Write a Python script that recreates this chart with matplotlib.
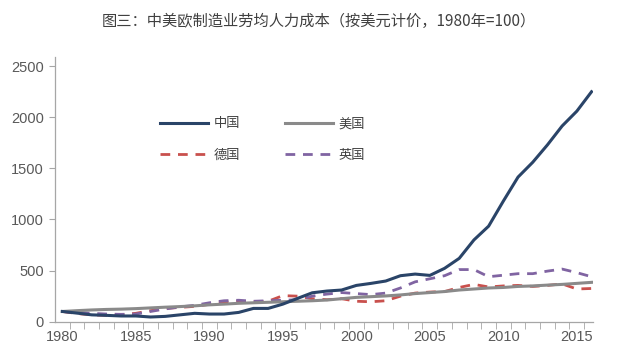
import matplotlib
matplotlib.use("Agg")
import matplotlib.pyplot as plt
import numpy as np

plt.rcParams['font.family'] = ['Liberation Sans', 'Noto Sans CJK SC', 'DejaVu Sans']

years = list(range(1980, 2017))

china = [100, 84, 67, 62, 56, 56, 46, 52, 67, 82, 75, 75, 91, 130, 130, 172, 228, 283, 300, 310,
         355, 375, 398, 450, 466, 453, 522, 620, 800, 935, 1180, 1415, 1560, 1730, 1915, 2060, 2250]
usa = [100, 108, 115, 120, 123, 128, 135, 142, 148, 155, 165, 172, 180, 185, 190, 195, 200, 205, 212, 225,
       238, 245, 252, 262, 275, 285, 295, 310, 320, 330, 335, 345, 350, 358, 365, 375, 385]
germany = [100, 80, 67, 62, 68, 82, 108, 130, 140, 150, 170, 190, 200, 195, 200, 255, 250, 225, 215, 225,
           200, 195, 205, 250, 280, 290, 295, 335, 365, 340, 350, 355, 345, 355, 370, 320, 325]
uk = [100, 90, 82, 75, 72, 75, 100, 125, 145, 160, 185, 205, 210, 200, 205, 210, 215, 250, 270, 285,
      275, 265, 280, 330, 390, 420, 450, 510, 510, 440, 455, 470, 470, 495, 515, 480, 440]

labels = ['中国', '美国', '德国', '英国']

fig = plt.figure(figsize=(6.41, 3.64), dpi=100)
ax = fig.add_axes([55/641, 1 - 321.7/364, (593 - 55)/641, (321.7 - 57)/364])

l_cn, = ax.plot(years, china, color='#2A4468', lw=2.2, solid_joinstyle='round', label=labels[0], zorder=4)
l_us, = ax.plot(years, usa, color='#8A8A8A', lw=2.2, solid_joinstyle='round', label=labels[1], zorder=3)
l_de, = ax.plot(years, germany, color='#C9504D', lw=2.0, dashes=(3.5, 2.8), label=labels[2], zorder=2)
l_uk, = ax.plot(years, uk, color='#8064A2', lw=2.0, dashes=(3.5, 2.8), label=labels[3], zorder=2)

ax.set_xlim(1979.5, 2016.1)
ax.set_ylim(0, 2590)
ax.set_yticks(range(0, 2501, 500))
ax.set_xticks(range(1980, 2016, 5))
ax.set_xticks(np.arange(1980.5, 2016, 1), minor=True)

for s in ['top', 'right']:
    ax.spines[s].set_visible(False)
for s in ['left', 'bottom']:
    ax.spines[s].set_color('#A6A6A6')
    ax.spines[s].set_linewidth(0.9)

ax.tick_params(axis='y', length=4, color='#A6A6A6', labelsize=10.5, labelcolor='#595959', pad=4)
ax.tick_params(axis='x', which='major', length=0, labelsize=10.5, labelcolor='#595959', pad=6)
ax.tick_params(axis='x', which='minor', length=5, color='#A6A6A6')

fig.text(0.497, 1 - 21/364, '图三：中美欧制造业劳均人力成本（按美元计价，1980年=100）',
         ha='center', va='center', fontsize=11, color='#404040',
         family=['Noto Sans CJK SC', 'DejaVu Sans'])

# legend fills column-wise, so order gives rows 中国/美国 and 德国/英国
leg = ax.legend([l_cn, l_de, l_us, l_uk], [labels[0], labels[2], labels[1], labels[3]],
                ncol=2, frameon=False, loc='upper left',
                bbox_to_anchor=(155/641, 1 - 112/364), bbox_transform=fig.transFigure,
                borderaxespad=0, handlelength=3.6, handletextpad=0.45,
                columnspacing=3.4, labelspacing=1.4,
                prop={'family': ['Noto Sans CJK SC'], 'size': 9.5})
for t in leg.get_texts():
    t.set_color('#404040')

fig.savefig('out.png', dpi=100)
